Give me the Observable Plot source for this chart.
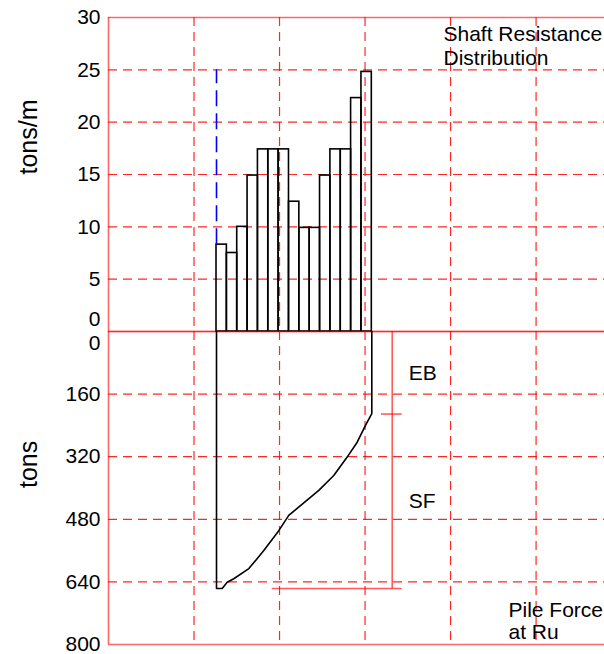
<!DOCTYPE html>
<html>
<head>
<meta charset="utf-8">
<script src="https://cdn.jsdelivr.net/npm/d3@7"></script>
<script src="https://cdn.jsdelivr.net/npm/@observablehq/plot@0.6"></script>
<style>
  html, body { margin: 0; padding: 0; background: #fff; }
  #chart svg { display: block; }
</style>
</head>
<body>
<div id="chart"></div>
<script>
// ---------- data ----------
// shaft resistance per pile segment (tons/m), top to toe
const shaftResistance = [8.3, 7.5, 10.0, 14.9, 17.4, 17.4, 17.4, 12.4, 9.9, 9.9, 14.9, 17.4, 17.4, 22.3, 24.8];
// pile extent along the horizontal axis (grid units)
const pileTopX = 1.263;
const pileToeX = 3.079;
// blue dashed reference line (tons/m)
const blueLineTop = 25;
// pile force at Ru along the pile (grid units, tons)
const forceX = [1.263, 1.263, 1.329, 1.388, 1.465, 1.641, 1.816, 1.991, 2.108, 2.245, 2.459, 2.634, 2.791, 2.908, 3.005, 3.079, 3.079];
const forceT = [0, 657, 657, 641, 632, 606, 560, 509, 470, 445, 406, 368, 321, 283, 240, 210, 0];
// capacity split
const ruTotal = 657;
const endBearing = 211;
const splitBarX = 3.317;
const splitTickX = [3.192, 3.434];
const ruLineX = [1.914, 3.434];
// axis ticks
const topTicks = [5, 10, 15, 20, 25, 30];
const topGrid = [5, 10, 15, 20, 25];
const botTicks = [160, 320, 480, 640, 800];
const botGrid = [160, 320, 480, 640];
const xGrid = [1, 2, 3, 4, 5];

// ---------- derived ----------
const nSeg = shaftResistance.length;
const segW = (pileToeX - pileTopX) / nSeg;
const bars = shaftResistance.map((v, i) => ({x1: pileTopX + i * segW, x2: pileTopX + (i + 1) * segW, v}));
const force = forceX.map((x, i) => ({x, t: forceT[i]}));

const FONT = "'Liberation Sans', Arial, Helvetica, sans-serif";
const RED = "#ff0000";
const DASH = "9,6";
const W = 604;
const xDomain = [0, 5.8];
const gridStyle = {stroke: RED, strokeWidth: 1.2, strokeOpacity: 0.85, strokeDasharray: DASH};
const frameStyle = {stroke: RED, strokeWidth: 1.6, strokeOpacity: 0.6};

// ---------- top panel ----------
const topPanel = Plot.plot({
  width: W, height: 331,
  marginLeft: 108, marginRight: 0, marginTop: 17, marginBottom: 0,
  style: {fontFamily: FONT, background: "transparent", overflow: "visible"},
  x: {domain: xDomain, axis: null},
  y: {domain: [0, 30], axis: null},
  marks: [
    Plot.ruleX(xGrid, gridStyle),
    Plot.ruleY(topGrid, gridStyle),
    Plot.ruleY([0, 30], frameStyle),
    Plot.ruleX([0], frameStyle),
    Plot.rect(bars, {x1: "x1", x2: "x2", y1: 0, y2: "v", fill: "none", stroke: "black", strokeWidth: 1.6}),
    Plot.ruleX([pileTopX], {y1: shaftResistance[0], y2: blueLineTop, stroke: "#0000ff", strokeWidth: 1.6, strokeDasharray: "16,7"}),
    Plot.text(["Shaft Resistance\nDistribution"], {x: 3.917, y: 29.33, text: d => d, textAnchor: "start", lineAnchor: "top", lineHeight: 1.12, fontSize: 21, fill: "black"}),
    Plot.axisY(topTicks, {tickSize: 0, tickPadding: 8, fontSize: 21, fill: "black", label: null}),
    Plot.axisY([0], {tickSize: 0, tickPadding: 8, fontSize: 21, fill: "black", dy: -12, label: null}),
    Plot.text(["tons/m"], {frameAnchor: "left", dx: -80, rotate: -90, fontSize: 25, fill: "black"})
  ]
});

// ---------- bottom panel ----------
const bottomPanel = Plot.plot({
  width: W, height: 323,
  marginLeft: 108, marginRight: 0, marginTop: 0, marginBottom: 10,
  style: {fontFamily: FONT, background: "transparent", overflow: "visible"},
  x: {domain: xDomain, axis: null},
  y: {domain: [0, 800], reverse: true, axis: null},
  marks: [
    Plot.ruleX(xGrid, gridStyle),
    Plot.ruleY(botGrid, gridStyle),
    Plot.ruleY([0, 800], frameStyle),
    Plot.ruleX([0], frameStyle),
    Plot.ruleX([splitBarX], {y1: 0, y2: ruTotal, stroke: RED, strokeWidth: 1.2, strokeOpacity: 0.85}),
    Plot.ruleY([endBearing], {x1: splitTickX[0], x2: splitTickX[1], stroke: RED, strokeWidth: 1.2, strokeOpacity: 0.85}),
    Plot.ruleY([ruTotal], {x1: ruLineX[0], x2: ruLineX[1], stroke: RED, strokeWidth: 1.4, strokeOpacity: 0.65}),
    Plot.line(force, {x: "x", y: "t", stroke: "black", strokeWidth: 1.6}),
    Plot.text(["EB"], {x: 3.51, y: endBearing / 2, text: d => d, textAnchor: "start", fontSize: 21, fill: "black"}),
    Plot.text(["SF"], {x: 3.51, y: (endBearing + ruTotal) / 2, text: d => d, textAnchor: "start", fontSize: 21, fill: "black"}),
    Plot.text(["Pile Force\nat Ru"], {x: 4.677, y: 687.5, text: d => d, textAnchor: "start", lineAnchor: "top", lineHeight: 1.08, fontSize: 21, fill: "black"}),
    Plot.axisY(botTicks, {tickSize: 0, tickPadding: 8, fontSize: 21, fill: "black", label: null}),
    Plot.axisY([0], {tickSize: 0, tickPadding: 8, fontSize: 21, fill: "black", dy: 12, label: null}),
    Plot.text(["tons"], {frameAnchor: "left", dx: -80, rotate: -90, fontSize: 25, fill: "black"})
  ]
});

const host = document.getElementById("chart");
host.appendChild(topPanel);
host.appendChild(bottomPanel);
</script>
</body>
</html>
